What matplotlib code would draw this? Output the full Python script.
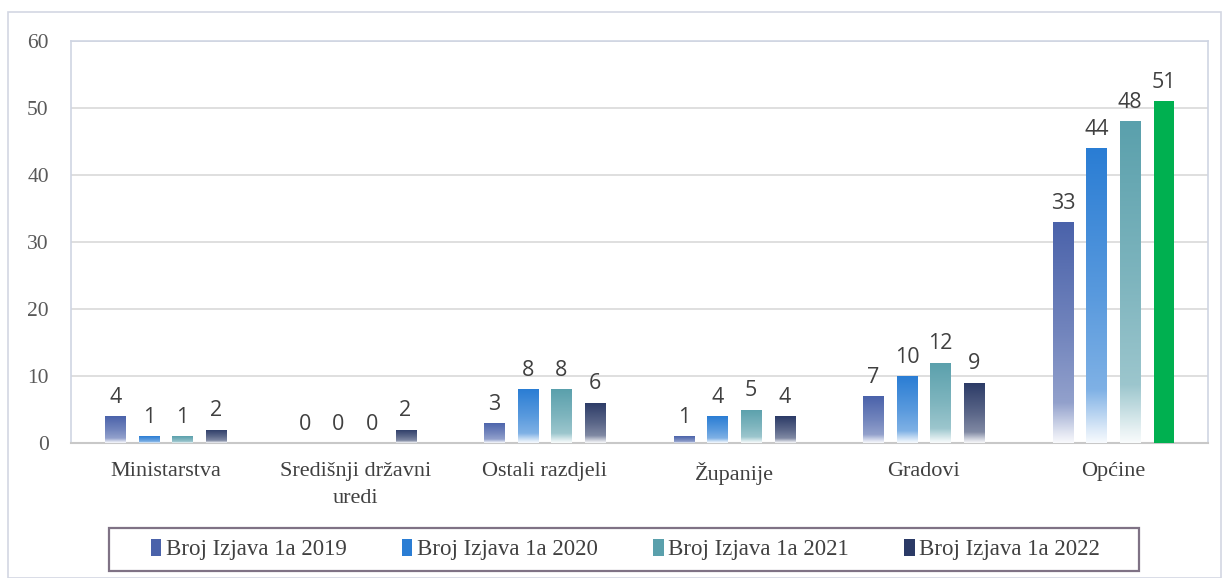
import matplotlib.pyplot as plt
import matplotlib.colors as mcolors
from matplotlib.patches import Rectangle, Patch
import numpy as np

categories = ['Ministarstva', 'Središnji državni\nuredi', 'Ostali razdjeli',
              'Županije', 'Gradovi', 'Općine']
years = ['2019', '2020', '2021', '2022']
v2019 = [4, 0, 3, 1, 7, 33]
v2020 = [1, 0, 8, 4, 10, 44]
v2021 = [1, 0, 8, 5, 12, 48]
v2022 = [2, 2, 6, 4, 9, 51]
series = [v2019, v2020, v2021, v2022]
colors = ['#4a62aa', '#2a7dd4', '#5aa0ac', '#2b3a66']
highlight = '#00b050'   # Općine 2022 drawn solid

plt.rcParams['font.family'] = ['Liberation Serif', 'DejaVu Serif']
sans = ['Open Sans', 'DejaVu Sans']

W, H = 1227, 578
fig = plt.figure(figsize=(W/100, H/100), dpi=100)
ax = fig.add_axes([71/W, 1-443/H, (1208-71)/W, (443-41)/H])

# outer chart border
fig.patches.append(Rectangle((8/W, 0), (1221-8)/W, 1-12/H, transform=fig.transFigure,
                             fill=False, edgecolor='#d3d7e3', linewidth=1.2))
# legend frame
fig.patches.append(Rectangle((109/W, 1-571/H), (1139-109)/W, 43/H, transform=fig.transFigure,
                             fill=False, edgecolor='#7f7285', linewidth=1.6))

x = np.arange(len(categories))
width = 0.106
pitch = 0.177

# gradient profile: bottom (t=0) nearly white, top full colour
t = np.linspace(0, 1, 256)
strength = np.interp(t, [0, 0.04, 0.18, 0.5, 1.0], [0.04, 0.15, 0.6, 0.78, 1.0])

for i, vals in enumerate(series):
    offs = x + (i - 1.5) * pitch
    base = np.array(mcolors.to_rgb(colors[i]))
    grad = 1 - strength[:, None] * (1 - base[None, :])
    img = grad[::-1][:, None, :]
    for j, v in enumerate(vals):
        if i == 3 and j == 5:
            ax.bar(offs[j], v, width, color=highlight, zorder=3)
        elif v > 0:
            bar = ax.bar(offs[j], v, width, color='none', zorder=3)[0]
            im = ax.imshow(img, extent=(offs[j]-width/2, offs[j]+width/2, 0, v),
                           aspect='auto', zorder=3, interpolation='bilinear')
            im.set_clip_path(bar)
        ax.annotate(str(v), (offs[j], v), xytext=(0, 6), textcoords='offset points',
                    ha='center', va='bottom', fontsize=15.5, color='#404040',
                    family=sans, zorder=4)

ax.set_xlim(-0.5, len(categories) - 0.5)
ax.set_ylim(0, 60)
ax.set_yticks(range(0, 61, 10))
ax.yaxis.grid(True, color='#d9d9d9', linewidth=1.2, zorder=0)
ax.set_axisbelow(True)
ax.set_xticks(x)
ax.set_xticklabels(categories, fontsize=16, color='#404040', linespacing=1.55)
ax.tick_params(axis='y', length=0, pad=16, labelsize=15.5, labelcolor='#595959')
ax.tick_params(axis='x', length=0, pad=14)
for s in ['left', 'right', 'top']:
    ax.spines[s].set_color('#cfd5e3')
    ax.spines[s].set_linewidth(1.2)
ax.spines['bottom'].set_color('#c8c8c8')
ax.spines['bottom'].set_linewidth(1.5)

handles = [Patch(facecolor=c, edgecolor='none') for c in colors]
leg = fig.legend(handles, ['Broj Izjava 1a ' + y for y in years], loc='center',
                 bbox_to_anchor=(151/W, 1-568/H, (1100-151)/W, 37/H), mode='expand', ncol=4,
                 prop={'size': 16.5}, frameon=False,
                 handlelength=0.45, handleheight=0.8, handletextpad=0.2,
                 borderpad=0.0, borderaxespad=0)
for txt in leg.get_texts():
    txt.set_color('#404040')

fig.savefig('out.png', dpi=100)
